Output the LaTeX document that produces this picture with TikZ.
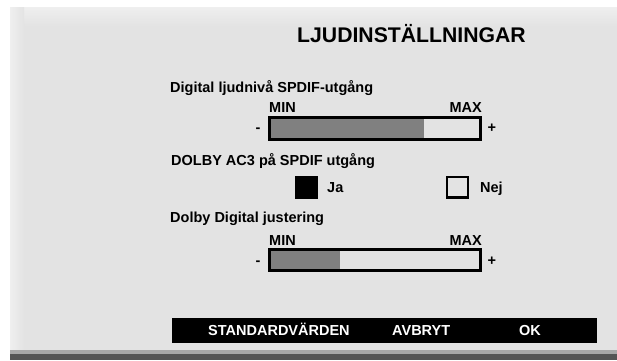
\documentclass[tikz,border=0pt]{standalone}
\usepackage{fontspec}
\setmainfont{Liberation Sans}
\definecolor{panelbg}{HTML}{E3E3E3}
\definecolor{paneltop}{HTML}{EFEFEF}
\definecolor{barfill}{HTML}{808080}
\definecolor{bandlight}{HTML}{A8A8A8}
\definecolor{banddark}{HTML}{555555}
\begin{document}
\begin{tikzpicture}[x=1pt,y=-1pt,
  lbl/.style={anchor=base west,inner sep=0pt,font=\fontsize{14.5}{16}\selectfont\bfseries},
  btn/.style={anchor=base west,inner sep=0pt,text=white,font=\fontsize{14.5}{16}\selectfont\bfseries},
  ttl/.style={anchor=base west,inner sep=0pt,font=\fontsize{21.2}{24}\selectfont\bfseries},
  barbox/.style={draw=black,line width=3pt,fill=panelbg},
  barlevel/.style={fill=barfill},
  chkon/.style={fill=black},
  chkoff/.style={draw=black,line width=2.5pt}]
\useasboundingbox (0,0) rectangle (617,360);
\fill[white] (0,0) rectangle (617,360);
% panel
\fill[panelbg] (10,7) rectangle (617,360);
\shade[top color=paneltop,bottom color=panelbg] (10,7) rectangle (617,26);
\shade[left color=paneltop,right color=panelbg] (10,7) rectangle (24,350);
% bottom bands
\fill[bandlight] (10,350) rectangle (617,354);
\fill[banddark] (10,354) rectangle (617,360);
% title
\node[ttl] (title) at (297,42) {LJUDINSTÄLLNINGAR};
% section 1
\node[lbl] (l1) at (170,92) {Digital ljudnivå SPDIF-utgång};
\node[lbl] (min1) at (269,112.7) {MIN};
\node[lbl,anchor=base east] (max1) at (482,112.7) {MAX};
\draw[barbox] (269.8,117.5) rectangle (480.2,139.5);
\fill[barlevel] (271.3,119) rectangle (424,138);
\node[lbl] (minus1) at (255.5,132) {-};
\node[lbl] (plus1) at (487.5,132) {+};
% section 2
\node[lbl] (l2) at (171,165) {DOLBY AC3 på SPDIF utgång};
\fill[chkon] (295,176) rectangle (318,198.5) node[pos=0.5] (ja box) {};
\node[lbl] (ja) at (327,192) {Ja};
\draw[chkoff] (447.2,177.2) rectangle (467.8,197.3) node[pos=0.5] (nej box) {};
\node[lbl] (nej) at (480,192) {Nej};
% section 3
\node[lbl] (l3) at (170,222) {Dolby Digital justering};
\node[lbl] (min2) at (269,245) {MIN};
\node[lbl,anchor=base east] (max2) at (482,245) {MAX};
\draw[barbox] (269.8,249.8) rectangle (480.2,270.8);
\fill[barlevel] (271.3,251.3) rectangle (340,269.3);
\node[lbl] (minus2) at (255.5,265) {-};
\node[lbl] (plus2) at (487.5,265) {+};
% buttons
\fill[black] (172,318) rectangle (597,343);
\node[btn] (std) at (208,335.5) {STANDARDVÄRDEN};
\node[btn] (avb) at (392,335.5) {AVBRYT};
\node[btn] (ok) at (519,335.5) {OK};
\end{tikzpicture}
\end{document}
